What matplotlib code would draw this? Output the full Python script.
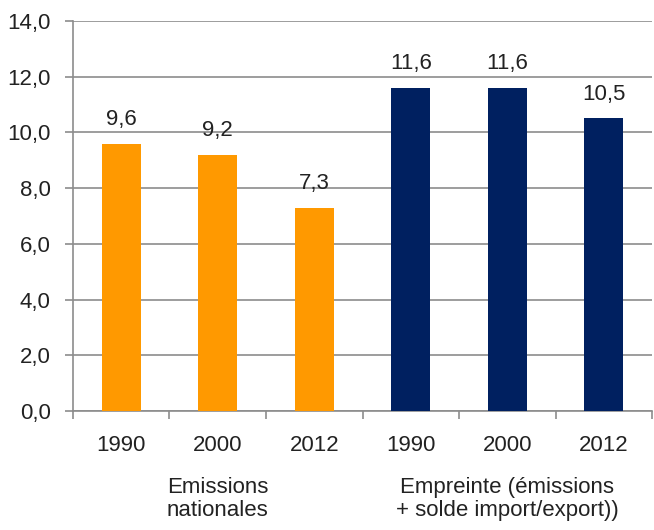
import matplotlib
matplotlib.use("Agg")
import matplotlib.pyplot as plt
import numpy as np
from matplotlib.ticker import FixedLocator

plt.rcParams['font.family'] = ['Liberation Sans', 'DejaVu Sans']

years = ["1990", "2000", "2012", "1990", "2000", "2012"]
values = [9.6, 9.2, 7.3, 11.6, 11.6, 10.5]
colors = ["#FF9900"] * 3 + ["#002060"] * 3
groups = ["Emissions\nnationales", "Empreinte (émissions\n+ solde import/export))"]
yticks = [0, 2, 4, 6, 8, 10, 12, 14]

FS = 16
fig = plt.figure(figsize=(6.54, 5.30), dpi=100)
ax = fig.add_axes([0.1116, 0.2245, 0.8854, 0.7359])
x = np.arange(len(values))
ax.bar(x, values, width=0.40, color=colors, zorder=3)
for xi, v in zip(x, values):
    ax.annotate(f"{v:.1f}".replace(".", ","), (xi, v), xytext=(0, 10), textcoords="offset points",
                ha="center", va="bottom", fontsize=FS, color="#222222")

gc = "#8c8c8c"
ax.set_xlim(-0.5, 5.5)
ax.set_ylim(0, 14)
ax.set_yticks(yticks)
ax.set_yticklabels([f"{t:.1f}".replace(".", ",") for t in yticks], fontsize=FS, color="#222222")
ax.yaxis.grid(True, color=gc, linewidth=1.2, zorder=0)
ax.set_xticks(x)
ax.set_xticklabels(years, fontsize=FS, color="#222222")
ax.tick_params(axis="x", which="major", length=0, pad=17)
ax.xaxis.set_minor_locator(FixedLocator(np.arange(-0.5, 6, 1)))
ax.tick_params(axis="x", which="minor", length=6, width=1.2, color=gc, direction="out")
ax.tick_params(axis="y", length=6, width=1.2, color=gc, pad=10)
for s in ["top", "right"]:
    ax.spines[s].set_visible(False)
for s in ["left", "bottom"]:
    ax.spines[s].set_color(gc)
    ax.spines[s].set_linewidth(1.2)

for gi, label in enumerate(groups):
    ax.text(1 + 3 * gi, -0.168, label, transform=ax.get_xaxis_transform(), ha="center", va="top",
            fontsize=FS, color="#222222", linespacing=1.15)

fig.savefig("out.png", dpi=100)
